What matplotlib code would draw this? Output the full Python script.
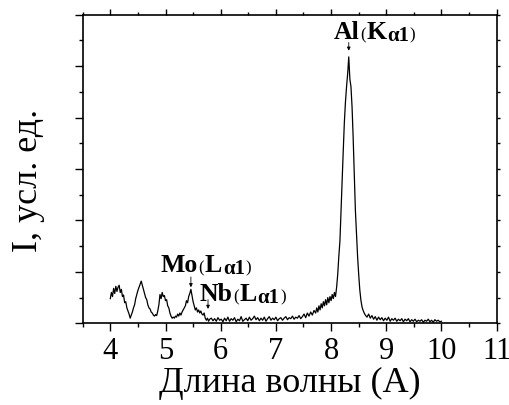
import numpy as np
import matplotlib
matplotlib.use('Agg')
import matplotlib.pyplot as plt
import matplotlib.transforms as mtransforms
from matplotlib.ticker import MultipleLocator, NullFormatter

# wavelength (A) and intensity (arb. units)
wl_low = [4.00, 4.02, 4.04, 4.06, 4.08, 4.10, 4.12, 4.14, 4.16, 4.18,
          4.20, 4.22, 4.24, 4.26, 4.28, 4.30, 4.32, 4.34, 4.36, 4.38,
          4.40, 4.42, 4.44, 4.46, 4.48, 4.50, 4.52, 4.54, 4.56, 4.58,
          4.60, 4.62, 4.64, 4.66, 4.68, 4.70, 4.72, 4.74, 4.76, 4.78,
          4.80, 4.82, 4.84, 4.86, 4.88, 4.90, 4.92, 4.94, 4.96, 4.98,
          5.00, 5.02, 5.04, 5.06, 5.08, 5.10, 5.12, 5.14, 5.16, 5.18,
          5.20, 5.22, 5.24, 5.26, 5.28, 5.30, 5.32, 5.34, 5.36, 5.38,
          5.40, 5.42, 5.44, 5.46, 5.48, 5.50, 5.52, 5.54, 5.56, 5.58,
          5.60, 5.62, 5.64, 5.66, 5.68, 5.70, 5.72, 5.74, 5.76, 5.78, 5.80]
int_low = [0.48, 0.60, 0.52, 0.68, 0.58, 0.72, 0.62, 0.70, 0.74, 0.60,
           0.66, 0.52, 0.55, 0.40, 0.42, 0.30, 0.24, 0.18, 0.10, 0.16,
           0.22, 0.30, 0.36, 0.48, 0.56, 0.64, 0.70, 0.76, 0.82, 0.74,
           0.66, 0.58, 0.50, 0.46, 0.36, 0.30, 0.28, 0.22, 0.20, 0.16,
           0.14, 0.17, 0.15, 0.24, 0.36, 0.56, 0.48, 0.60, 0.52, 0.54,
           0.44, 0.46, 0.34, 0.30, 0.20, 0.14, 0.10, 0.12, 0.10, 0.14,
           0.12, 0.18, 0.14, 0.20, 0.16, 0.22, 0.26, 0.30, 0.34, 0.44,
           0.40, 0.52, 0.58, 0.66, 0.54, 0.42, 0.34, 0.26, 0.30, 0.22,
           0.26, 0.20, 0.24, 0.18, 0.16, 0.20, 0.10, 0.06, 0.10, 0.04, 0.08]

wl_mid = [5.83, 5.86, 5.89, 5.92, 5.95, 5.98, 6.01, 6.04, 6.07, 6.10,
          6.13, 6.16, 6.19, 6.22, 6.25, 6.28, 6.31, 6.34, 6.37, 6.40,
          6.43, 6.46, 6.49, 6.52, 6.55, 6.58, 6.61, 6.64, 6.67, 6.70,
          6.73, 6.76, 6.79, 6.82, 6.85, 6.88, 6.91, 6.94, 6.97, 7.00,
          7.03, 7.06, 7.09, 7.12, 7.15, 7.18, 7.21, 7.24, 7.27, 7.30,
          7.33, 7.36, 7.39, 7.42, 7.45, 7.48, 7.51, 7.54, 7.57, 7.60,
          7.63, 7.66, 7.69]
int_mid = [0.10, 0.05, 0.09, 0.04, 0.11, 0.06, 0.08, 0.03, 0.10, 0.05,
           0.12, 0.04, 0.09, 0.06, 0.11, 0.03, 0.08, 0.05, 0.13, 0.04,
           0.07, 0.10, 0.05, 0.12, 0.06, 0.09, 0.14, 0.07, 0.11, 0.05,
           0.10, 0.06, 0.12, 0.04, 0.09, 0.13, 0.06, 0.10, 0.07, 0.12,
           0.05, 0.09, 0.11, 0.06, 0.10, 0.13, 0.07, 0.11, 0.09, 0.14,
           0.08, 0.12, 0.10, 0.15, 0.09, 0.13, 0.18, 0.11, 0.20, 0.14,
           0.22, 0.16, 0.25]

wl_peak = [7.72, 7.74, 7.76, 7.78, 7.80, 7.82, 7.84, 7.86, 7.88, 7.90,
           7.92, 7.94, 7.96, 7.98, 8.00, 8.02, 8.04, 8.06, 8.08, 8.10,
           8.12, 8.14, 8.16, 8.18, 8.20, 8.22, 8.24, 8.26, 8.28, 8.30,
           8.32, 8.34, 8.36, 8.38, 8.40, 8.42, 8.44, 8.46, 8.48, 8.50,
           8.52, 8.54, 8.56, 8.58, 8.60, 8.62]
int_peak = [0.20, 0.30, 0.22, 0.34, 0.26, 0.38, 0.30, 0.42, 0.34, 0.46,
            0.36, 0.50, 0.40, 0.52, 0.44, 0.56, 0.48, 0.60, 0.52, 0.70,
            0.95, 1.30, 1.60, 2.20, 2.80, 3.35, 3.90, 4.30, 4.60, 4.85,
            5.18, 4.75, 4.60, 4.20, 3.60, 2.90, 2.20, 1.75, 1.30, 0.95,
            0.65, 0.45, 0.32, 0.25, 0.20, 0.16]

wl_tail = [8.65, 8.68, 8.71, 8.74, 8.77, 8.80, 8.83, 8.86, 8.89, 8.92,
           8.95, 8.98, 9.01, 9.04, 9.07, 9.10, 9.13, 9.16, 9.19, 9.22,
           9.25, 9.28, 9.31, 9.34, 9.37, 9.40, 9.43, 9.46, 9.49, 9.52,
           9.55, 9.58, 9.61, 9.64, 9.67, 9.70, 9.73, 9.76, 9.79, 9.82,
           9.85, 9.88, 9.91, 9.94, 9.97, 10.00]
int_tail = [0.12, 0.18, 0.10, 0.15, 0.08, 0.13, 0.06, 0.12, 0.07, 0.11,
            0.05, 0.10, 0.06, 0.12, 0.04, 0.09, 0.06, 0.10, 0.04, 0.08,
            0.05, 0.09, 0.03, 0.08, 0.05, 0.09, 0.03, 0.07, 0.04, 0.08,
            0.03, 0.06, 0.04, 0.07, 0.02, 0.06, 0.04, 0.08, 0.03, 0.06,
            0.02, 0.07, 0.04, 0.06, 0.03, 0.04]

# peak labels: element, line letter, text position, arrow tip, arrow tail
elements = ['Al', 'Mo', 'Nb']
lines = ['K', 'L', 'L']
label_pos = [(8.04, 5.53), (4.91, 1.00), (5.62, 0.44)]
arrow_tip = [(8.32, 5.30), (5.46, 0.70), (5.77, 0.28)]
arrow_tail = [(8.32, 5.46), (5.46, 0.90), (5.77, 0.46)]

wl = np.array(wl_low + wl_mid + wl_peak + wl_tail)
intensity = np.array(int_low + int_mid + int_peak + int_tail)

plt.rcParams['font.family'] = ['Liberation Serif', 'DejaVu Serif']

fig = plt.figure(figsize=(5.09, 4.05), dpi=100)
ax = fig.add_axes([0.1625, 0.2017, 0.8133, 0.762])

ax.plot(wl, intensity, color='black', linewidth=0.9)


def draw_label(x, y, pieces):
    # put text pieces one after another, each with its own size and drop
    r = fig.canvas.get_renderer()
    dx = 0.0
    for s, size, weight, dy in pieces:
        tr = mtransforms.offset_copy(ax.transData, fig=fig, x=dx, y=dy, units='dots')
        t = ax.text(x, y, s, transform=tr, fontsize=size, fontweight=weight,
                    ha='left', va='baseline')
        dx += t.get_window_extent(renderer=r).width + 0.7


for el, ln, pos, tip, tail in zip(elements, lines, label_pos, arrow_tip, arrow_tail):
    draw_label(pos[0], pos[1], [(el, 18.5, 'bold', 0),
                                ('(', 12, 'normal', -1),
                                (ln, 18.5, 'bold', 0),
                                ('\u03b11', 15, 'bold', -2.5),
                                (')', 12, 'normal', -1)])
    ax.annotate('', xy=tip, xytext=tail,
                arrowprops=dict(arrowstyle='-|>', color='black', lw=0.6,
                                mutation_scale=5, shrinkA=0, shrinkB=0))

ax.set_xlim(3.5, 11)
ax.set_ylim(0, 6)
ax.xaxis.set_major_locator(MultipleLocator(1))
ax.xaxis.set_minor_locator(MultipleLocator(0.5))
ax.yaxis.set_major_locator(MultipleLocator(1))
ax.yaxis.set_minor_locator(MultipleLocator(0.5))
ax.yaxis.set_major_formatter(NullFormatter())

ax.tick_params(axis='x', which='major', direction='out', length=6, width=1,
               labelsize=22, top=True, pad=3.5)
ax.tick_params(axis='x', which='minor', direction='out', length=3, width=1, top=True)
ax.tick_params(axis='y', which='major', direction='out', length=6, width=1, right=True)
ax.tick_params(axis='y', which='minor', direction='out', length=3, width=1, right=True)
# shorter ticks on the top and right sides
for t in ax.xaxis.get_ticklines(minor=False)[1::2]:
    t.set_markersize(4)
for t in ax.xaxis.get_ticklines(minor=True)[1::2]:
    t.set_markersize(2)
for t in ax.yaxis.get_ticklines(minor=False)[1::2]:
    t.set_markersize(2)
for t in ax.yaxis.get_ticklines(minor=True)[1::2]:
    t.set_markersize(2)

for s in ax.spines.values():
    s.set_linewidth(1.2)

ax.set_xlabel('Длина волны (A)', fontsize=26)
ax.set_ylabel('I, усл. ед.', fontsize=26)
ax.xaxis.set_label_coords(0.5, -0.143)
ax.yaxis.set_label_coords(-0.091, 0.464)

fig.savefig('out.png', dpi=100)
